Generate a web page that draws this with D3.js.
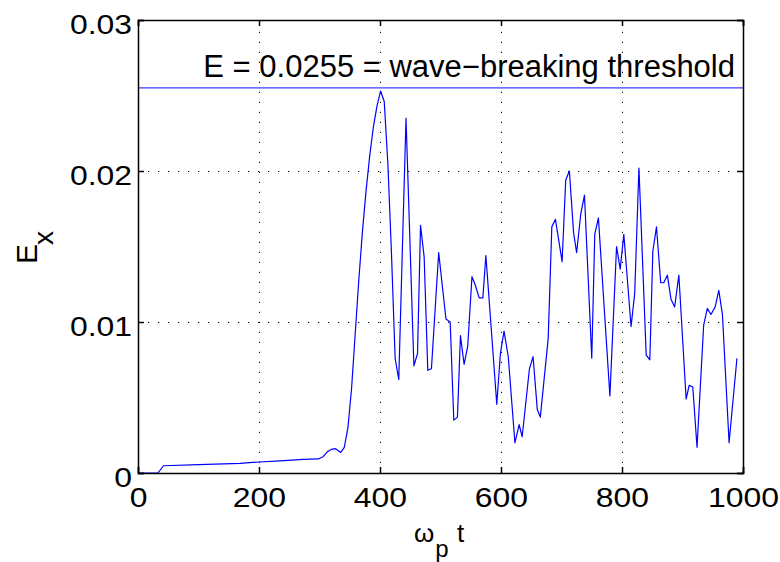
<!DOCTYPE html>
<html>
<head>
<meta charset="utf-8">
<script src="https://cdn.jsdelivr.net/npm/d3@7"></script>
<style>
  html, body { margin: 0; padding: 0; background: #fff; }
  svg { display: block; }
  text { font-family: "Liberation Sans", Arial, Helvetica, sans-serif; fill: #000; }
</style>
</head>
<body>
<svg id="chart" width="780" height="562"></svg>
<script>
// ---- data ----
const timeValues = [0, 33, 42, 100, 169, 200, 235, 273, 298, 306, 313, 320, 326, 335, 341, 347, 353, 359, 365, 371, 377, 383, 389, 395, 401, 407, 413, 419, 425, 431, 443, 456, 462, 467, 473, 479, 485, 497, 509, 516, 522, 528, 533, 539, 545, 552, 557, 564, 570, 575, 593, 599, 605, 612, 623, 630, 635, 647, 653, 660, 665, 678, 684, 690, 701, 707, 713, 720, 725, 732, 738, 750, 755, 761, 780, 791, 797, 803, 815, 821, 828, 840, 846, 851, 857, 864, 869, 875, 881, 887, 894, 906, 911, 917, 924, 935, 941, 947, 954, 960, 966, 977, 990];
const exValues = [0, 0, 0.00048, 0.00055, 0.00064, 0.00073, 0.0008, 0.0009, 0.00093, 0.00108, 0.0014, 0.00157, 0.00162, 0.00136, 0.0017, 0.003, 0.0056, 0.0092, 0.0128, 0.016, 0.0187, 0.021, 0.0229, 0.0243, 0.0253, 0.0246, 0.0205, 0.0145, 0.0076, 0.0062, 0.0235, 0.0071, 0.0079, 0.0164, 0.0143, 0.0068, 0.0069, 0.0146, 0.0102, 0.01, 0.0035, 0.0037, 0.0091, 0.0072, 0.0084, 0.013, 0.0125, 0.0116, 0.0116, 0.0144, 0.00455, 0.0079, 0.0094, 0.0077, 0.002, 0.0032, 0.0024, 0.0069, 0.0077, 0.0042, 0.0037, 0.0089, 0.0163, 0.0168, 0.014, 0.0194, 0.02, 0.0159, 0.0146, 0.0172, 0.0184, 0.0076, 0.0158, 0.0169, 0.0051, 0.015, 0.0135, 0.0158, 0.0097, 0.0119, 0.0202, 0.0078, 0.0075, 0.0147, 0.0163, 0.0126, 0.0126, 0.0131, 0.0115, 0.011, 0.0131, 0.0049, 0.0058, 0.0057, 0.0017, 0.0098, 0.0109, 0.0105, 0.011, 0.0121, 0.0105, 0.002, 0.0076];
const threshold = 0.0255;
const thresholdLabel = "E = 0.0255 = wave\u2212breaking threshold";
const xTicks = [0, 200, 400, 600, 800, 1000];
const yTicks = [0, 0.01, 0.02, 0.03];
const yTickLabels = ["0", "0.01", "0.02", "0.03"];
const xDomain = [0, 1000];
const yDomain = [0, 0.03];

// ---- layout ----
const svg = d3.select("#chart");
const plotL = 138, plotR = 743, plotT = 20, plotB = 473;
const W = plotR - plotL, H = plotB - plotT;
const x = d3.scaleLinear().domain(xDomain).range([plotL, plotR]);
const y = d3.scaleLinear().domain(yDomain).range([plotB, plotT]);
const stretch = 1.14;

// gridlines
const gridX = svg.append("g").attr("transform", `translate(0,${plotB})`)
  .call(d3.axisBottom(x).tickValues(xTicks.slice(1, -1)).tickSize(-H).tickFormat(""));
const gridY = svg.append("g").attr("transform", `translate(${plotL},0)`)
  .call(d3.axisLeft(y).tickValues(yTicks.slice(1, -1)).tickSize(-W).tickFormat(""));
[gridX, gridY].forEach(g => {
  g.select(".domain").remove();
  g.selectAll("line").attr("stroke", "#000").attr("stroke-width", 1)
    .attr("stroke-dasharray", "1.2,8.8");
});

// threshold line
svg.append("line")
  .attr("x1", x(xDomain[0])).attr("x2", x(xDomain[1]))
  .attr("y1", y(threshold)).attr("y2", y(threshold))
  .attr("stroke", "#3b3bff").attr("stroke-width", 1.2);

// data line
const pts = timeValues.map((t, i) => [t, exValues[i]]);
svg.append("path")
  .datum(pts)
  .attr("fill", "none")
  .attr("stroke", "#0000ff")
  .attr("stroke-width", 1.2)
  .attr("stroke-linejoin", "round")
  .attr("d", d3.line().x(d => x(d[0])).y(d => y(d[1])));

// axes (ticks inward)
const tickLen = 6;
const axB = svg.append("g").attr("transform", `translate(0,${plotB})`)
  .call(d3.axisBottom(x).tickValues(xTicks).tickSize(-tickLen).tickFormat(d3.format("d")));
const axT = svg.append("g").attr("transform", `translate(0,${plotT})`)
  .call(d3.axisTop(x).tickValues(xTicks).tickSize(-tickLen).tickFormat(""));
const axL = svg.append("g").attr("transform", `translate(${plotL},0)`)
  .call(d3.axisLeft(y).tickValues(yTicks).tickSize(-tickLen).tickFormat((d, i) => yTickLabels[i]));
const axR = svg.append("g").attr("transform", `translate(${plotR},0)`)
  .call(d3.axisRight(y).tickValues(yTicks).tickSize(-tickLen).tickFormat(""));
[axB, axT, axL, axR].forEach(g => {
  g.select(".domain").attr("stroke", "#000").attr("stroke-width", 1.5);
  g.selectAll(".tick line").attr("stroke", "#000").attr("stroke-width", 1.5);
});
axB.selectAll(".tick text")
  .attr("font-size", 28).attr("y", 34).attr("dy", 0)
  .attr("font-family", "Liberation Sans, Arial, sans-serif")
  .attr("fill", "#000")
  .attr("transform", `scale(${stretch},1)`);
axL.selectAll(".tick text")
  .attr("font-size", 28).attr("x", -6 / stretch).attr("dy", 0).attr("y", 13)
  .attr("font-family", "Liberation Sans, Arial, sans-serif")
  .attr("fill", "#000")
  .attr("transform", `scale(${stretch},1)`);

// threshold annotation
svg.append("text")
  .attr("x", 735).attr("y", 77)
  .attr("text-anchor", "end")
  .attr("font-size", 31)
  .text(thresholdLabel);

// y label E_x
const yl = svg.append("text")
  .attr("transform", "translate(37,264) rotate(-90)")
  .attr("font-size", 30);
yl.append("tspan").text("E");
yl.append("tspan").attr("dy", 16).attr("dx", -1).attr("font-size", 28).text("x");

// x label ω_p t
const xl = svg.append("text").attr("x", 414).attr("y", 542).attr("font-size", 26);
xl.append("tspan").text("\u03c9");
xl.append("tspan").attr("dy", 15).attr("dx", 1).attr("font-size", 24).text("p");
xl.append("tspan").attr("x", 457).attr("dy", -15).text("t");
</script>
</body>
</html>
